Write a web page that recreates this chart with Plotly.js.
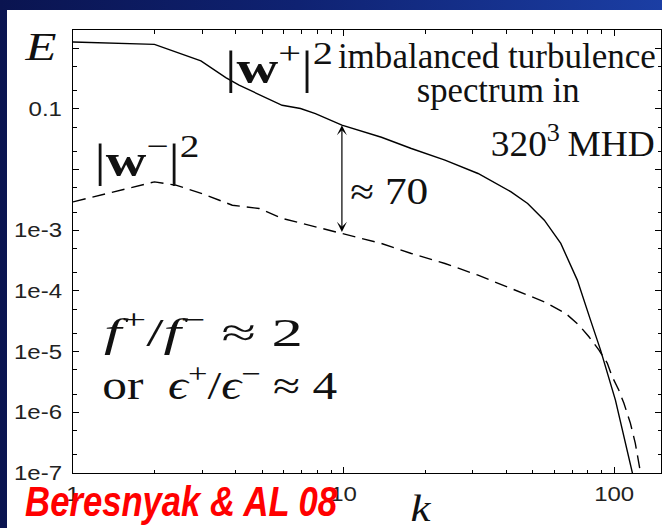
<!DOCTYPE html>
<html>
<head>
<meta charset="utf-8">
<script src="https://cdn.plot.ly/plotly-3.0.1.min.js"></script>
<style>
  html, body { margin: 0; padding: 0; width: 662px; height: 528px; overflow: hidden; }
  body { background: linear-gradient(90deg, #0a1450 0%, #0f2272 45%, #1b3ea4 100%); position: relative; }
  #chart { position: absolute; left: 7px; top: 10px; width: 655px; height: 518px; }
</style>
</head>
<body>
<div id="chart"></div>
<script>
// Energy spectrum of the dominant Elsasser field |w+|^2
const kPlus = [1, 2.0, 2.97, 3.67, 4.11, 4.87, 5.93, 6.93, 7.87, 9.86, 12.0, 13.8, 17.8, 23.7,
               31.4, 41.6, 47.9, 55.2, 63.5, 73.1, 81.8, 89.1, 101.1, 116.5, 118.5];
const ePlus = [1.27, 1.16, 0.618, 0.329, 0.246, 0.175, 0.115, 0.1016, 0.084, 0.054, 0.0418, 0.0342,
               0.0223, 0.0143, 0.00863, 0.0043, 0.00277, 0.00147, 6.07e-4, 1.51e-4, 3.31e-5,
               1.06e-5, 1.59e-6, 1.04e-7, 7.6e-8];

// Energy spectrum of the subdominant field |w-|^2
const kMinus = [1, 2.0, 2.4, 3.0, 3.88, 4.47, 4.87, 5.93, 7.87, 9.86, 13.8, 17.8, 23.7, 31.4,
                41.6, 55.2, 66.2, 74.1, 80.7, 87.9, 94.3, 98.4, 104.0, 108.6, 114.8, 119.7,
                125.0, 126.8];
const eMinus = [2.94e-3, 6.28e-3, 5.54e-3, 4.03e-3, 2.59e-3, 2.43e-3, 2.29e-3, 1.57e-3, 1.14e-3,
                8.87e-4, 6.07e-4, 4.15e-4, 2.84e-4, 1.82e-4, 1.10e-4, 6.62e-5, 4.27e-5, 2.74e-5,
                1.76e-5, 1.06e-5, 6.48e-6, 3.85e-6, 2.33e-6, 1.42e-6, 6.65e-7, 3.12e-7,
                1.04e-7, 7.6e-8];

// Axis ticks
const xTickVals = [1, 10, 100];
const xTickText = ['1', '10', '100'];
const yTickVals = [1, 0.1, 0.01, 1e-3, 1e-4, 1e-5, 1e-6, 1e-7];
const yTickText = ['', '0.1', '', '1e-3', '1e-4', '1e-5', '1e-6', '1e-7'];

// Wavenumber where the gap between the two spectra is marked
const kGap = 10;

// minor ticks: every digit on k, 2 and 5 on E
const xMinor = [], yMinor = [];
for (let d = 0; d <= 2; d++) for (let m = 2; m <= 9; m++) xMinor.push(m * Math.pow(10, d));
for (let d = -7; d <= 0; d++) [2, 5].forEach(m => yMinor.push(m * Math.pow(10, d)));

// plot-area pixel frame (page coords) for placing text
const L = 73, R = 661, T = 30, B = 473;
const px = X => (X - L) / (R - L);
const py = Y => (B - Y) / (B - T);

const serif = 'Liberation Serif, Times New Roman, serif';
const sans = 'Liberation Sans, Arial, sans-serif';

function nearestIndex(arr, v) {
  let best = 0;
  arr.forEach((a, i) => { if (Math.abs(Math.log(a / v)) < Math.abs(Math.log(arr[best] / v))) best = i; });
  return best;
}
const iP = nearestIndex(kPlus, kGap);
const iM = nearestIndex(kMinus, kGap);

const traces = [
  { x: kPlus, y: ePlus, mode: 'lines', type: 'scatter',
    line: { color: '#000', width: 1.4 }, hoverinfo: 'skip' },
  { x: kMinus, y: eMinus, mode: 'lines', type: 'scatter',
    line: { color: '#000', width: 1.4, dash: '13px,7px' }, hoverinfo: 'skip' }
];

// text labels: centre (X, Y) in page pixels, font size, and the width the label spans
const labels = [
  { text: '<i>E</i>', X: 40, Y: 47, size: 39, w: 31 },
  { text: '|<b>w</b><sup>+</sup>|<sup>2</sup>', X: 279, Y: 64, size: 46, w: 108 },
  { text: 'imbalanced turbulence', X: 497, Y: 56, size: 35, w: 318 },
  { text: 'spectrum in', X: 498, Y: 90, size: 35, w: 163 },
  { text: '320<sup>3</sup>\u2009MHD', X: 572, Y: 141, size: 35, w: 164 },
  { text: '|<b>w</b><sup>\u2212</sup>|<sup>2</sup>', X: 147, Y: 157, size: 46, w: 105 },
  { text: '\u2248 70', X: 389, Y: 191, size: 37, w: 78 },
  { text: '<i>f</i><sup>+</sup>/<i>f</i><sup>\u2212</sup> \u2248 2', X: 203, Y: 329, size: 40, w: 199 },
  { text: 'or  <i>\u03f5</i><sup>+</sup>/<i>\u03f5</i><sup>\u2212</sup> \u2248 4', X: 220, Y: 383, size: 39, w: 235 },
  { text: '<i>k</i>', X: 421, Y: 508, size: 38, w: 20 },
  { text: 'Beresnyak & AL 08', X: 181, Y: 502, size: 42, w: 312,
    font: { family: sans, size: 42, color: '#ff0000', weight: 'bold', style: 'italic' } }
];

const arrow = {
  xref: 'x', yref: 'y', axref: 'x', ayref: 'y',
  x: Math.log10(kPlus[iP]), y: Math.log10(ePlus[iP]),
  ax: Math.log10(kPlus[iP]), ay: Math.log10(eMinus[iM]),
  text: '', showarrow: true, arrowside: 'end+start',
  arrowhead: 3, startarrowhead: 3, arrowsize: 1.4, startarrowsize: 1.4,
  arrowwidth: 1.2, arrowcolor: '#000', standoff: 0, startstandoff: 0
};

const annotations = [arrow].concat(labels.map(l => ({
  text: l.text.replace(/  /g, '\u00a0\u00a0'), xref: 'paper', yref: 'paper', x: px(l.X), y: py(l.Y),
  xanchor: 'center', yanchor: 'middle', showarrow: false,
  font: l.font || { family: serif, size: l.size, color: '#111' }
})));

const axisCommon = {
  type: 'log', showgrid: false, zeroline: false,
  showline: true, linecolor: '#000', linewidth: 1, mirror: 'ticks',
  ticks: 'inside', ticklen: 6, tickwidth: 1, tickcolor: '#000',
  tickfont: { family: sans, size: 20, color: '#222' }
};

const layout = {
  width: 655, height: 518,
  margin: { l: L - 7, r: 662 - R, t: T - 10, b: 528 - B },
  paper_bgcolor: '#ffffff', plot_bgcolor: '#ffffff',
  showlegend: false,
  xaxis: Object.assign({}, axisCommon, {
    range: [0, Math.log10(149)],
    tickmode: 'array', tickvals: xTickVals, ticktext: xTickText,
    ticklabelstandoff: 3,
    minor: { tickmode: 'array', tickvals: xMinor, ticks: 'inside', ticklen: 3.5, tickwidth: 1, tickcolor: '#000' }
  }),
  yaxis: Object.assign({}, axisCommon, {
    range: [-7, Math.log10(2)],
    tickmode: 'array', tickvals: yTickVals, ticktext: yTickText,
    ticklabelstandoff: 6,
    minor: { tickmode: 'array', tickvals: yMinor, ticks: 'inside', ticklen: 3.5, tickwidth: 1, tickcolor: '#000' }
  }),
  annotations
};

Plotly.newPlot('chart', traces, layout, { staticPlot: true, displayModeBar: false }).then(gd => {
  // squeeze or widen each label to the width it spans, keeping its centre
  labels.forEach((l, i) => {
    const t = gd.querySelector('.annotation[data-index="' + (i + 1) + '"] text.annotation-text');
    if (t && l.w) {
      t.setAttribute('textLength', l.w);
      t.setAttribute('lengthAdjust', 'spacingAndGlyphs');
    }
  });
  // slightly wide tick numerals
  gd.querySelectorAll('.xtick text, .ytick text').forEach(t => {
    const len = t.getComputedTextLength();
    if (len > 0) {
      t.setAttribute('textLength', (len * 1.2).toFixed(1));
      t.setAttribute('lengthAdjust', 'spacingAndGlyphs');
    }
  });
});
</script>
</body>
</html>
